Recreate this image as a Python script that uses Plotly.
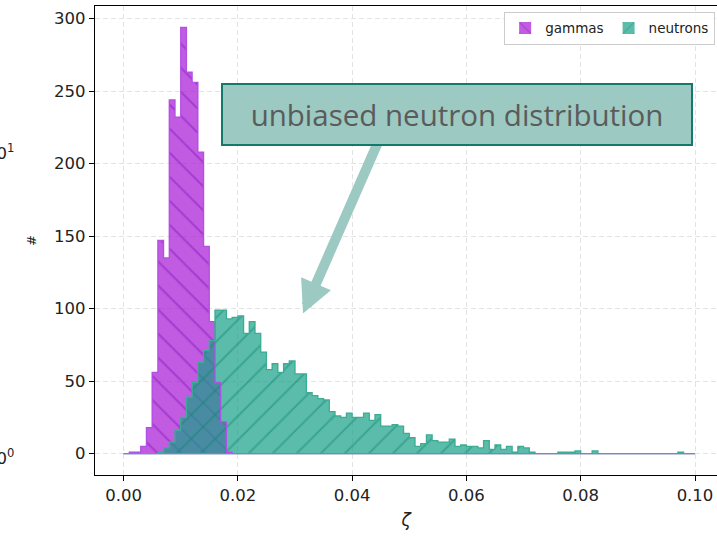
import numpy as np
import plotly.graph_objects as go

# histogram binning: 100 bins of width 0.001 over [0, 0.1]
bin_width = 0.001
bin_edges = np.round(np.arange(0, 101) * bin_width, 6)
bin_centers = bin_edges[:-1] + bin_width / 2

# counts per bin
gammas = [
    0, 1, 1, 5, 18, 56, 147, 135, 244, 232,
    294, 263, 256, 208, 143, 91, 49, 22, 1, 0,
] + [0] * 80

neutrons = [
    0, 0, 0, 0, 0, 0, 1, 4, 8, 16,
    25, 39, 49, 63, 71, 78, 99, 99, 93, 94,
    95, 83, 91, 83, 70, 58, 62, 56, 62, 64,
    55, 55, 42, 40, 38, 37, 29, 26, 25, 28,
    25, 25, 28, 23, 27, 19, 19, 20, 19, 14,
    11, 5, 7, 13, 9, 8, 8, 10, 5, 6,
    5, 5, 4, 9, 3, 6, 3, 5, 1, 5,
    4, 1, 0, 0, 0, 0, 1, 1, 1, 2,
    0, 0, 2, 0, 0, 0, 0, 0, 0, 0,
    0, 0, 0, 0, 0, 0, 0, 1, 0, 0,
]

x_ticks = [0.0, 0.02, 0.04, 0.06, 0.08, 0.10]
y_ticks = [0, 50, 100, 150, 200, 250, 300]

series = [
    dict(name="gammas", counts=gammas, fill="rgba(165,22,214,0.70)",
         hatch="rgba(128,16,180,0.85)", edge="rgb(178,80,230)", shape="\\"),
    dict(name="neutrons", counts=neutrons, fill="rgba(22,160,136,0.70)",
         hatch="rgba(14,130,108,0.85)", edge="rgb(60,172,146)", shape="/"),
]


def outline(counts):
    """Closed step outline of a filled histogram."""
    xs, ys = [bin_edges[0]], [0.0]
    for i, c in enumerate(counts):
        xs += [bin_edges[i], bin_edges[i + 1]]
        ys += [c, c]
    xs += [bin_edges[-1], bin_edges[0]]
    ys += [0.0, 0.0]
    return xs, ys


fig = go.Figure()
for s in series:
    fig.add_trace(go.Bar(
        x=bin_centers, y=s["counts"], width=bin_width, name=s["name"],
        marker=dict(
            color=s["fill"], line=dict(width=0),
            pattern=dict(shape=s["shape"], fgcolor=s["hatch"], bgcolor=s["fill"],
                         size=17, solidity=0.12, fillmode="overlay"),
        ),
        hoverinfo="skip",
    ))
    ox, oy = outline(s["counts"])
    fig.add_trace(go.Scatter(
        x=ox, y=oy, mode="lines", line=dict(color=s["edge"], width=1.3),
        showlegend=False, hoverinfo="skip",
    ))

axis_common = dict(
    showline=True, linecolor="black", linewidth=1.2,
    ticks="outside", ticklen=5, tickwidth=1.1, tickcolor="black",
    showgrid=True, gridcolor="#e3e3e3", griddash="5px,3px", gridwidth=1,
    zeroline=False, tickfont=dict(size=16.5, color="#222"),
)

fig.update_layout(
    width=717, height=537,
    margin=dict(l=95, r=0, t=6, b=62),
    paper_bgcolor="white", plot_bgcolor="white",
    font=dict(family="DejaVu Sans", color="#222"),
    barmode="overlay", bargap=0,
    xaxis=dict(axis_common, range=[-0.005, 0.10385], tickvals=x_ticks,
               tickformat=".2f", mirror=True,
               title=dict(text="<i>ζ</i>", font=dict(size=17), standoff=10)),
    yaxis=dict(axis_common, range=[-14.7, 308.7], tickvals=y_ticks,
               title=dict(text="#", font=dict(size=13), standoff=14)),
    legend=dict(orientation="h", x=0.997, xanchor="right", y=0.988, yanchor="top",
                font=dict(size=13.5), bgcolor="rgba(255,255,255,0.85)",
                bordercolor="#cccccc", borderwidth=1, itemwidth=30,
                tracegroupgap=0),
    showlegend=True,
)

# arrow from the callout box down to the neutron tail
fig.add_annotation(
    x=0.0314, y=96.6, ax=0.0454, ay=222.7, xref="x", yref="y",
    axref="x", ayref="y", text="", showarrow=True,
    arrowhead=2, arrowsize=0.65, arrowwidth=10, arrowcolor="#9ccac2",
)
# callout box
fig.add_annotation(
    x=0.05836, y=234, xref="x", yref="y", showarrow=False,
    text="unbiased neutron distribution",
    font=dict(family="Open Sans", size=29.5, color="#5b5b5b"),
    bgcolor="#9cc9c1", bordercolor="#137a6b", borderwidth=2, borderpad=0,
    width=468, height=59,
)

# tick labels of the neighbouring log-scale panel, cut by the figure edge
for txt, yp in [("10<sup>1</sup>", 0.6887), ("10<sup>0</sup>", 0.038)]:
    fig.add_annotation(
        x=-0.127, y=yp, xref="paper", yref="paper", xanchor="right",
        yanchor="middle", text=txt, showarrow=False,
        font=dict(size=16.5, color="#222"),
    )

fig.write_html("out.html")
